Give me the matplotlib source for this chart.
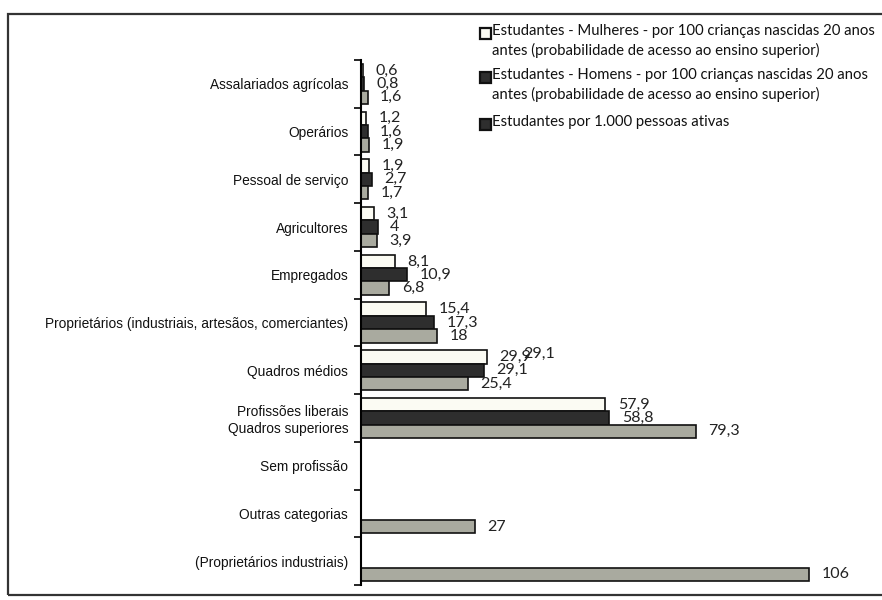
import numpy as np
import matplotlib
matplotlib.use("Agg")
import matplotlib.pyplot as plt
from matplotlib.patches import Rectangle
from matplotlib import font_manager

categories = [
    "Assalariados agrícolas",
    "Operários",
    "Pessoal de serviço",
    "Agricultores",
    "Empregados",
    "Proprietários (industriais, artesãos, comerciantes)",
    "Quadros médios",
    "Profissões liberais\nQuadros superiores",
    "Sem profissão",
    "Outras categorias",
    "(Proprietários industriais)",
]
mulheres = [0.6, 1.2, 1.9, 3.1, 8.1, 15.4, 29.9, 57.9, np.nan, np.nan, np.nan]
homens = [0.8, 1.6, 2.7, 4, 10.9, 17.3, 29.1, 58.8, np.nan, np.nan, np.nan]
ativas = [1.6, 1.9, 1.7, 3.9, 6.8, 18, 25.4, 79.3, np.nan, 27, 106]
legend_labels = [
    "Estudantes - Mulheres - por 100 crianças nascidas 20 anos\nantes (probabilidade de acesso ao ensino superior)",
    "Estudantes - Homens - por 100 crianças nascidas 20 anos\nantes (probabilidade de acesso ao ensino superior)",
    "Estudantes por 1.000 pessoas ativas",
]

installed = {f.name for f in font_manager.fontManager.ttflist}
cat_font = "Liberation Sans Narrow" if "Liberation Sans Narrow" in installed else "Liberation Sans"
num_font = ["Lato", "DejaVu Sans"]

fig = plt.figure(figsize=(8.82, 6.0), dpi=100)
ax = fig.add_axes([0.409, 0.025, 0.575, 0.875])

y = np.arange(len(categories))
h = 0.28
series = [
    (mulheres, "#fbfbf3", -h),
    (homens, "#2e2e2e", 0),
    (ativas, "#a9aa9f", h),
]
for vals, col, off in series:
    vals = np.array(vals, dtype=float)
    ax.barh(y + off, np.nan_to_num(vals), height=h, color=col,
            edgecolor="#111111", linewidth=1.2)
    for yi, v in zip(y, vals):
        if np.isnan(v):
            continue
        ax.annotate(f"{v:g}".replace(".", ","), (v, yi + off),
                    xytext=(9, 0), textcoords="offset points",
                    va="center", ha="left", fontsize=11.5,
                    family=num_font, color="#222222")

# stray overlapping label as printed in the original
ax.annotate("29,1", (29.9, 6 - h), xytext=(26, 2), textcoords="offset points",
            va="center", ha="left", fontsize=11.5, family=num_font,
            color="#222222")

ax.set_xlim(0, 120)
ax.set_ylim(len(categories) - 0.5, -0.5)
ax.set_yticks(y)
ax.set_yticklabels(categories, fontsize=9.9, family=cat_font, color="#111111")
ax.set_yticks(np.arange(-0.5, len(categories), 1.0), minor=True)
ax.tick_params(axis="y", which="major", length=0, pad=9)
ax.tick_params(axis="y", which="minor", length=5, width=1.2, direction="out")
ax.set_xticks([])
for s in ["top", "right", "bottom"]:
    ax.spines[s].set_visible(False)
ax.spines["left"].set_linewidth(1.5)
ax.patch.set_alpha(0)

# legend drawn by hand: square marker aligned with the first text line
W, H = 882.0, 600.0
leg_rows = [33, 77, 124]
leg_faces = ["#fbfbf3", "#2e2e2e", "#2e2e2e"]
for ytop, face, lab in zip(leg_rows, leg_faces, legend_labels):
    fig.add_artist(Rectangle((480 / W, 1 - (ytop + 5.5) / H), 11 / W, 11 / H,
                             transform=fig.transFigure, facecolor=face,
                             edgecolor="#111111", linewidth=1.6))
    fig.text(492 / W, 1 - (ytop - 9) / H, lab, ha="left", va="top",
             fontsize=10.7, family=num_font, color="#111111",
             linespacing=1.42)

fig.add_artist(Rectangle((0.009, 0.008), 0.995, 0.969, transform=fig.transFigure,
                         fill=False, edgecolor="#333333", linewidth=1.6))

fig.savefig("out.png", dpi=100)
